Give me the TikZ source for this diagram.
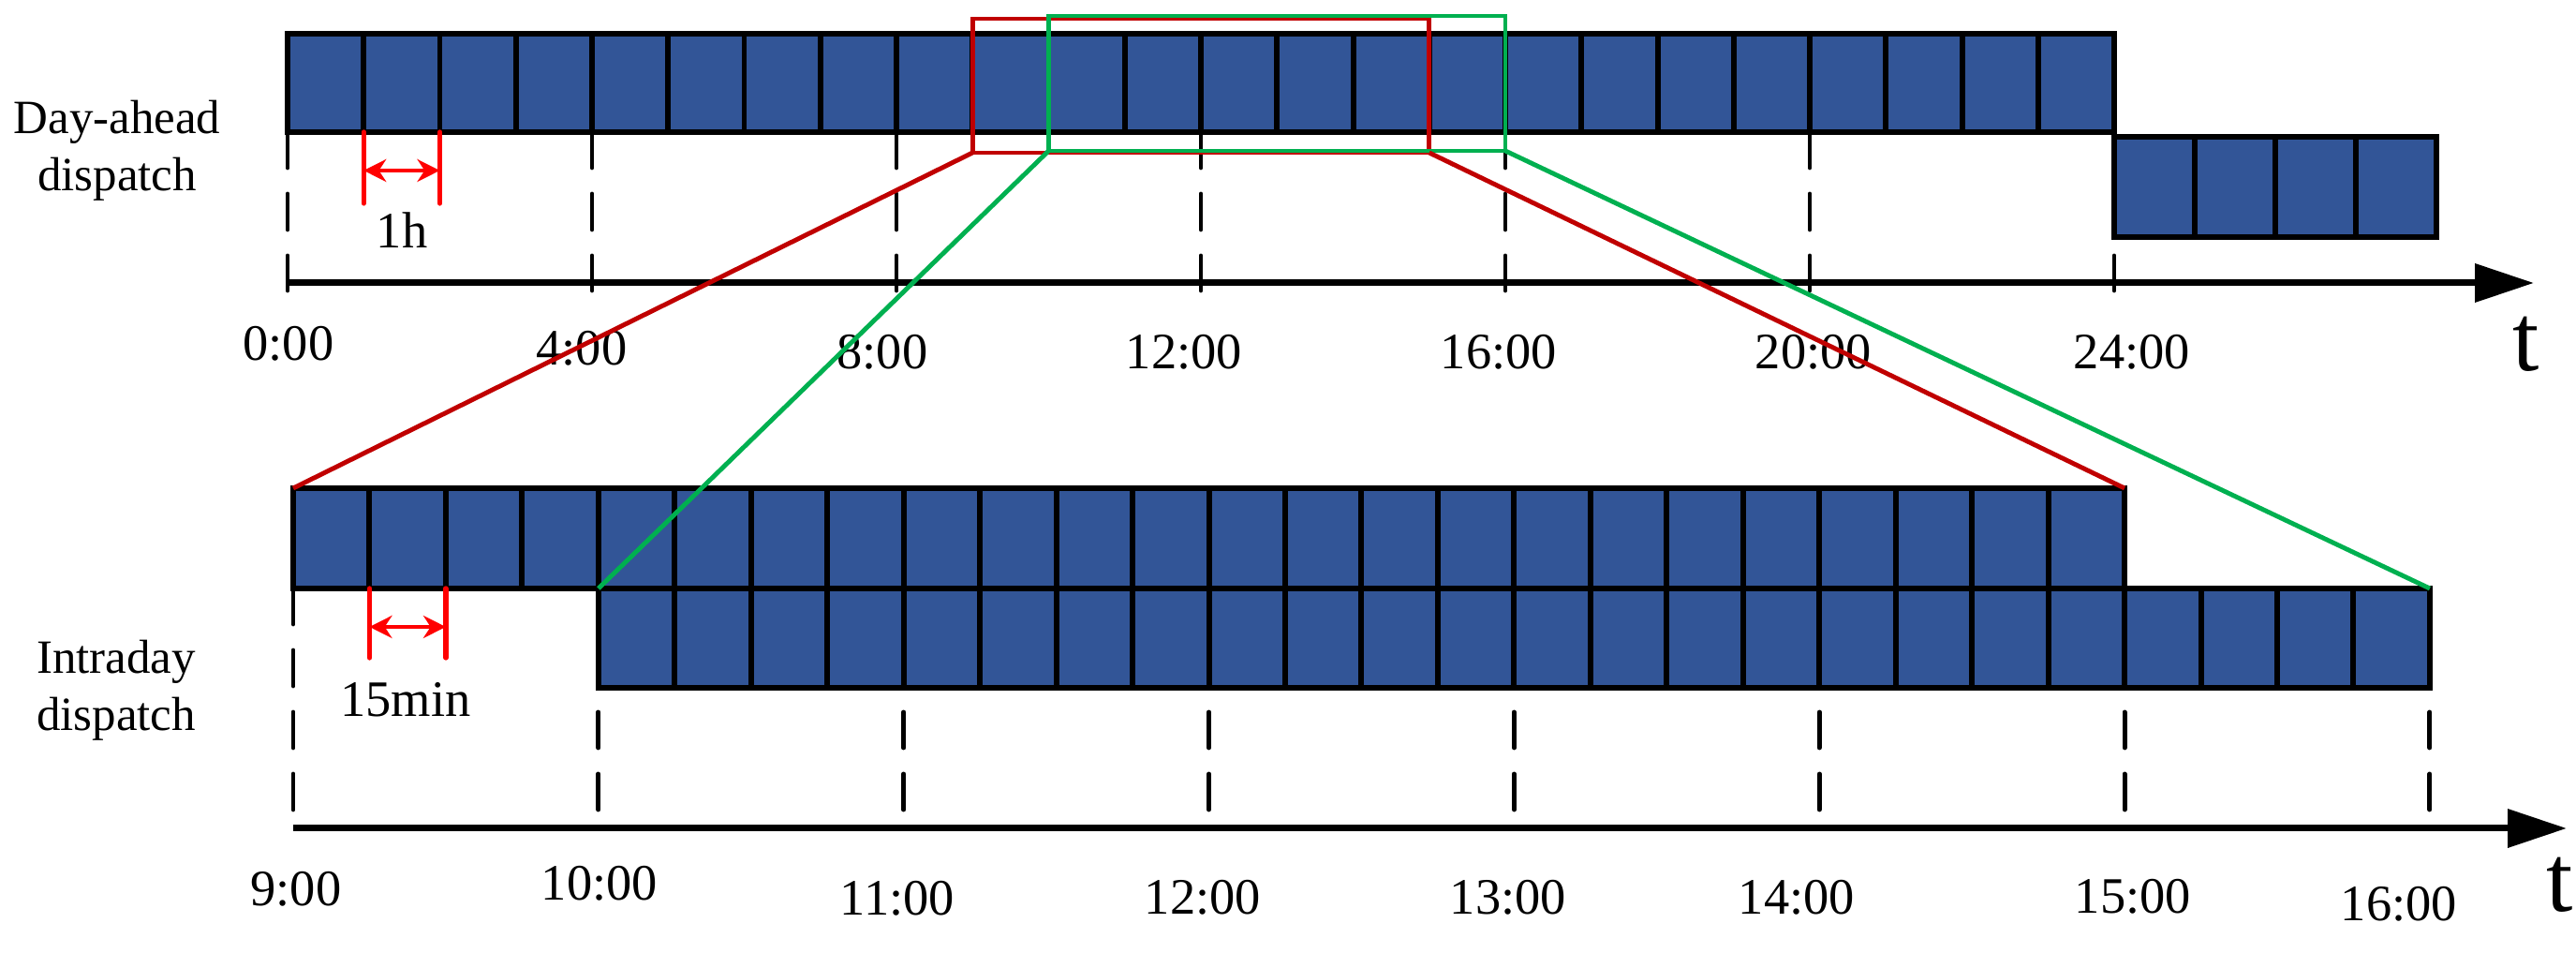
\documentclass[tikz,border=0pt]{standalone}
\usepackage{fontspec}
\setmainfont{Liberation Serif}
\usetikzlibrary{arrows.meta}
\definecolor{cellblue}{RGB}{50,85,151}
\definecolor{zred}{RGB}{192,0,0}
\definecolor{zgreen}{RGB}{0,176,80}
\tikzstyle{cell}=[draw,fill=cellblue,line width=1.7pt,inner sep=0,outer sep=0,anchor=north west,minimum width=0.8125cm,minimum height=1.05cm]
\tikzstyle{tk}=[line width=1.4pt,line cap=round,dash pattern=on 0.38cm off 0.28cm]
\tikzstyle{ax}=[line width=2pt,-{Triangle[length=0.63cm,width=0.4cm]}]
\tikzstyle{dim}=[red,line width=1.5pt,line cap=round]
\tikzstyle{dimarr}=[red,line width=1.3pt,{Stealth[length=0.24cm,width=0.24cm]}-{Stealth[length=0.24cm,width=0.24cm]}]
\tikzstyle{lab}=[font=\fontsize{15.5}{18}\selectfont,anchor=base,inner sep=0]
\tikzstyle{side}=[font=\fontsize{14.5}{17.4}\selectfont,align=center,anchor=base,inner sep=0]
\tikzstyle{tl}=[font=\fontsize{29}{34}\selectfont,anchor=base,inner sep=0]
\tikzstyle{zbox}=[line width=1.4pt,inner sep=0,outer sep=0,anchor=south west,minimum width=4.875cm]

\begin{document}
\begin{tikzpicture}
    \useasboundingbox (0,0) rectangle (27.5,10.17);

    % day-ahead
    \foreach \h in {0,4,...,24}
        \draw[tk] ({3.07+0.8125*\h},8.76) -- ({3.07+0.8125*\h},7.07);
    \foreach \i in {0,...,23}
        \node[cell] (da\i) at ({3.07+0.8125*\i},9.81) {};
    \foreach \i in {0,...,3}
        \node[cell,minimum width=0.86cm,minimum height=1.07cm] (db\i) at ({22.57+0.86*\i},8.71) {};

    \coordinate (ta0) at (3.07,7.15);
    \coordinate (ta1) at (27.05,7.15);
    \draw[ax] (ta0) -- (ta1);
    \node[tl] (tta) at (26.97,6.21) {t};

    \foreach \x/\y/\t [count=\k] in {3.08/6.32/0:00, 6.21/6.27/4:00, 9.42/6.23/8:00,
            12.64/6.23/12:00, 16.00/6.23/16:00, 19.36/6.23/20:00, 22.76/6.23/24:00}
        \node[lab] (ua\k) at (\x,\y) {\t};

    \node[side] (dah) at (1.25,8.13) {Day-ahead\\dispatch};

    \draw[dim] (da1.south west) -- ++(0,-0.76);
    \draw[dim] (da2.south west) -- ++(0,-0.76);
    \draw[dimarr] ([yshift=-0.41cm]da1.south west) -- ([yshift=-0.41cm]da2.south west);
    \node[lab] (oneh) at (4.29,7.52) {1h};

    % intraday
    \foreach \h in {0,...,7}
        \draw[tk] ({3.13+3.2584*\h},3.89) -- ({3.13+3.2584*\h},1.29);
    \foreach \i in {0,...,23}
        \node[cell,minimum width=0.8146cm,minimum height=1.07cm] (ia\i) at ({3.13+0.8146*\i},4.96) {};
    \foreach \i in {0,...,23}
        \node[cell,minimum width=0.8146cm,minimum height=1.06cm] (ib\i) at ({6.3884+0.8146*\i},3.89) {};

    \coordinate (tb0) at (3.13,1.33);
    \coordinate (tb1) at (27.40,1.33);
    \draw[ax] (tb0) -- (tb1);
    \node[tl] (ttb) at (27.33,0.44) {t};

    \foreach \x/\y/\t [count=\k] in {3.16/0.50/9:00, 6.40/0.56/10:00, 9.58/0.40/11:00,
            12.84/0.41/12:00, 16.10/0.41/13:00, 19.18/0.41/14:00, 22.77/0.42/15:00, 25.61/0.34/16:00}
        \node[lab] (la\k) at (\x,\y) {\t};

    \node[side] (idy) at (1.24,2.37) {Intraday\\dispatch};

    \draw[dim] (ia1.south west) -- ++(0,-0.74);
    \draw[dim] (ia2.south west) -- ++(0,-0.74);
    \draw[dimarr] ([yshift=-0.41cm]ia1.south west) -- ([yshift=-0.41cm]ia2.south west);
    \node[lab] (qmin) at (4.33,2.52) {15min};

    % zoom
    \node[zbox,draw=zred,minimum height=1.43cm] (rb) at (10.3825,8.54) {};
    \node[zbox,draw=zgreen,minimum height=1.44cm] (gb) at (11.195,8.56) {};
    \draw[zred,line width=1.4pt] (rb.south west) -- (ia0.north west);
    \draw[zred,line width=1.4pt] (rb.south east) -- (ia23.north east);
    \draw[zgreen,line width=1.4pt] (gb.south west) -- (ib0.north west);
    \draw[zgreen,line width=1.4pt] (gb.south east) -- (ib23.north east);

\end{tikzpicture}
\end{document}
